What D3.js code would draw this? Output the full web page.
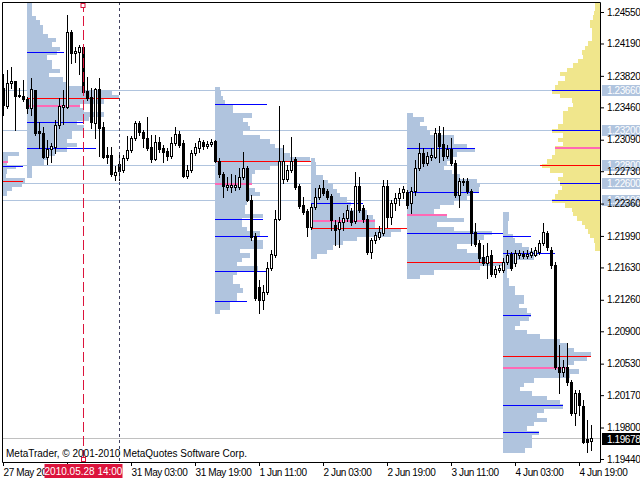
<!DOCTYPE html>
<html><head><meta charset="utf-8">
<script src="https://cdn.jsdelivr.net/npm/d3@7"></script>
<style>body{margin:0;background:#fff}svg{display:block}text{font-family:"Liberation Sans",Arial,sans-serif}</style>
</head><body><svg id="c" width="640" height="480"></svg>
<script>
// ---- candle data (EURUSD H1) ----
const open = [
1.23681,1.23475,1.23738,1.23761,1.23590,1.23590,
1.23555,1.23453,1.23658,1.23190,1.23167,1.22892,1.22984,1.23007,1.23258,1.23464,
1.23464,1.24321,1.24081,1.24093,1.24150,1.23647,1.23578,1.23281,1.23670,1.23235,
1.22915,1.22915,1.22687,
1.22812,1.22744,1.22881,1.22972,1.23110,1.23281,1.23178,1.23110,1.23007,1.22870,
1.23064,1.22995,1.22961,1.22904,1.23053,1.23155,1.23053,1.22675,1.22744,1.22938,
1.22995,1.23064,1.23018,1.23041,
1.23075,1.22847,1.22698,1.22550,1.22550,1.22550,1.22550,1.22664,1.22767,1.22401,
1.21990,1.21407,1.21258,1.21349,1.21624,1.21772,1.22184,1.22641,1.22641,1.22744,
1.22870,1.22561,1.22344,1.22275,
1.22092,1.22321,1.22435,1.22538,1.22504,1.22447,1.22115,1.22070,1.22150,1.22195,
1.22275,1.22161,1.22561,1.22310,1.22184,1.21807,1.21944,1.21978,1.22024,1.22561,
1.22207,1.22367,1.22424,1.22492,
1.22492,1.22367,1.22504,1.22767,1.22938,1.22824,1.22892,1.22892,1.23167,1.23041,
1.22904,1.22984,1.22824,1.22458,1.22607,1.22618,1.22504,1.22035,1.21910,1.21749,
1.21681,1.21772,1.21555,1.21601,
1.21601,1.21692,1.21784,1.21681,1.21772,1.21784,1.21761,1.21772,1.21772,1.21807,
1.21910,1.22024,1.21829,1.21658,1.20492,1.20435,1.20492,1.20321,1.19966,1.20195,
1.20046,1.19669,1.19646];
const high = [
1.23841,1.23887,1.23921,1.23761,1.23681,1.23773,
1.23578,1.23795,1.23658,1.23293,1.23235,1.23087,1.23053,1.23315,1.23567,1.23658,
1.24516,1.24344,1.24150,1.24173,1.24161,1.23807,1.23681,1.23681,1.23795,1.23293,
1.23007,1.23007,1.22790,
1.22915,1.22915,1.23133,1.23133,1.23304,1.23304,1.23201,1.23350,1.23144,1.23144,
1.23121,1.23030,1.22995,1.23121,1.23235,1.23190,1.23087,1.22801,1.22972,1.23053,
1.23110,1.23087,1.23075,1.23098,
1.23087,1.22881,1.22721,1.22664,1.22698,1.22687,1.22767,1.22950,1.22790,1.22458,
1.22024,1.21487,1.21429,1.21692,1.21829,1.22287,1.23475,1.23030,1.22801,1.23121,
1.22892,1.22584,1.22435,1.22298,
1.22355,1.22538,1.22572,1.22630,1.22527,1.22470,1.22172,1.22207,1.22252,1.22344,
1.22310,1.22721,1.22664,1.22344,1.22230,1.21967,1.22035,1.22104,1.22630,1.22630,
1.22401,1.22481,1.22538,1.22561,
1.22515,1.22550,1.22858,1.23053,1.22995,1.22950,1.22995,1.23224,1.23247,1.23235,
1.23030,1.23110,1.22858,1.22652,1.22652,1.22652,1.22527,1.22138,1.21944,1.21887,
1.21910,1.21829,1.21647,1.21658,
1.21738,1.21829,1.21807,1.21829,1.21829,1.21818,1.21829,1.21852,1.21864,1.21944,
1.22138,1.22047,1.21864,1.21692,1.20744,1.20572,1.20767,1.20344,1.20229,1.20229,
1.20115,1.19886,1.19829];
const low = [
1.23373,1.23453,1.23681,1.23201,1.23578,1.23533,
1.23395,1.23373,1.23144,1.22995,1.22881,1.22812,1.22835,1.22938,1.23224,1.23270,
1.23453,1.23967,1.23978,1.23841,1.23613,1.23544,1.23224,1.23110,1.22904,1.22881,
1.22824,1.22675,1.22630,
1.22630,1.22721,1.22858,1.22950,1.23087,1.23144,1.23007,1.22972,1.22835,1.22858,
1.22950,1.22835,1.22858,1.22881,1.23030,1.23007,1.22664,1.22652,1.22721,1.22915,
1.22950,1.22984,1.22995,1.23018,
1.22835,1.22664,1.22435,1.22515,1.22492,1.22515,1.22527,1.22641,1.22390,1.21944,
1.21258,1.21109,1.21155,1.21327,1.21601,1.21749,1.22172,1.22595,1.22618,1.22721,
1.22527,1.22310,1.22241,1.21990,
1.22070,1.22298,1.22412,1.22458,1.22412,1.22058,1.21887,1.21864,1.22058,1.22161,
1.22115,1.22138,1.22264,1.22150,1.21784,1.21738,1.21910,1.21955,1.22001,1.22092,
1.22127,1.22287,1.22344,1.22424,
1.22310,1.22252,1.22458,1.22744,1.22790,1.22801,1.22858,1.22881,1.22835,1.22858,
1.22881,1.22801,1.22435,1.22321,1.22572,1.22481,1.21887,1.21875,1.21692,1.21658,
1.21509,1.21532,1.21521,1.21578,
1.21578,1.21669,1.21601,1.21647,1.21738,1.21738,1.21738,1.21749,1.21761,1.21784,
1.21887,1.21829,1.21624,1.20469,1.20195,1.20389,1.20286,1.19944,1.19829,1.19944,
1.19624,1.19521,1.19543];
const close = [
1.23487,1.23738,1.23761,1.23590,1.23601,1.23555,
1.23453,1.23670,1.23167,1.23167,1.22892,1.22984,1.23018,1.23258,1.23475,1.23487,
1.24321,1.24081,1.24104,1.24150,1.23635,1.23567,1.23293,1.23670,1.23224,1.22892,
1.22892,1.22698,1.22721,
1.22733,1.22881,1.22972,1.23110,1.23281,1.23178,1.23110,1.22995,1.22870,1.23064,
1.22984,1.22950,1.22904,1.23053,1.23155,1.23030,1.22675,1.22744,1.22938,1.23007,
1.23075,1.23018,1.23041,1.23064,
1.22847,1.22698,1.22561,1.22572,1.22572,1.22572,1.22664,1.22767,1.22401,1.21978,
1.21281,1.21258,1.21349,1.21624,1.21784,1.22184,1.22847,1.22847,1.22744,1.22847,
1.22550,1.22332,1.22264,1.22092,
1.22321,1.22435,1.22538,1.22481,1.22435,1.22172,1.22058,1.22150,1.22195,1.22287,
1.22150,1.22561,1.22287,1.22184,1.21807,1.21944,1.22001,1.22035,1.22561,1.22207,
1.22367,1.22424,1.22481,1.22527,
1.22344,1.22504,1.22767,1.22938,1.22824,1.22904,1.22915,1.23167,1.23018,1.22904,
1.22984,1.22824,1.22458,1.22618,1.22618,1.22504,1.22024,1.21898,1.21738,1.21681,
1.21761,1.21555,1.21612,1.21624,
1.21692,1.21772,1.21624,1.21795,1.21795,1.21761,1.21784,1.21807,1.21829,1.21910,
1.22035,1.21864,1.21658,1.20492,1.20435,1.20492,1.20321,1.19966,1.20195,1.20058,
1.19635,1.19635,1.19678];

// ---- axes ----
const timeTicks  = [0,16,32,48,64,80,96,112,128,144];
const timeLabels = ["27 May 2010","","31 May 03:00","31 May 19:00","1 Jun 11:00",
                    "2 Jun 03:00","2 Jun 19:00","3 Jun 11:00","4 Jun 03:00","4 Jun 19:00"];
const priceTicks = [1.24550,1.24190,1.23820,1.23460,1.23090,1.22730,1.22360,1.21990,
                    1.21630,1.21260,1.20900,1.20530,1.20170,1.19800,1.19440];
const levelPrices = [1.23660,1.23200,1.22800,1.22600,1.22400];
const lastPrice = 1.19678;
const cursorIndex = 20, cursorLabel = "2010.05.28 14:00";
const separatorIndex = 29;

// ---- daily market profiles (row step 0.0005) ----
const STEP = 0.0005;
const profStarts = [-0.25, 6, 53, 77, 101, 125];
const profTops   = [1.22950, 1.24653, 1.23693, 1.22881, 1.23395, 1.22264];
const prof27May = [17,6,5,14,5,4,23,20,10,5];
const prof28May = [5,5,5,9,13,16,16,21,29,25,33,30,20,25,25,33,22,36,40,55,85,92,77,53,57,77,62,50,57,45,45,40,50,40,28,20,17,5,5,5];
const prof1Jun  = [5,6,8,10,18,18,37,28,33,35,28,45,55,60,68,75,95,67,55,40,37,37,32,40,45,35,32,30,30,48,27,27,32,45,37,48,48,25,35,27,22,43,22,18,18,25,28,22,22,15,15,5];
const prof2Jun  = [4,5,5,5,12,17,22,26,29,36,40,39,56,62,64,64,90,80,46,32,22,16,6];
const prof3Jun  = [6,17,13,20,23,47,47,60,68,50,43,40,37,45,53,70,73,72,65,60,47,33,27,40,57,30,47,85,77,67,50,60,73,82,96,73,27,13];
const prof4Jun  = [6,6,5,5,5,10,12,19,26,35,31,12,7,4,4,6,6,12,12,21,21,16,24,28,26,17,12,24,37,57,64,71,88,84,71,64,76,67,31,21,17,29,44,57,60,41,34,44,31,24,36,29,29,29,22];
// level lines: [price, volume, kind]  va = value area (blue), poc = red, vw = pink
const lines27May = [[1.22835,6,"vw"],[1.22790,21,"va"],[1.22618,21,"poc"]];
const lines28May = [[1.24093,37,"va"],[1.23296,57,"va"],[1.22995,69,"va"],[1.23570,92,"poc"],[1.23475,53,"vw"]];
const lines1Jun  = [[1.23498,52,"va"],[1.22184,48,"va"],[1.21990,53,"va"],[1.21589,52,"va"],[1.21247,32,"va"],[1.22850,96,"poc"],[1.22584,37,"vw"]];
const lines2Jun  = [[1.22367,52,"va"],[1.22081,96,"poc"],[1.22161,64,"vw"]];
const lines3Jun  = [[1.22995,68,"va"],[1.22492,72,"va"],[1.22024,96,"va"],[1.21692,96,"poc"],[1.22230,40,"vw"]];
const lines4Jun  = [[1.21990,28,"va"],[1.21795,52,"va"],[1.21087,28,"va"],[1.20058,60,"va"],[1.19749,36,"va"],[1.20618,88,"poc"],[1.20481,64,"vw"]];
// weekly profile on the right edge
const weekTop = 1.24664;
const weekProfile = [5,5,6,7,10,10,8,8,8,12,15,18,17,22,27,33,40,35,42,45,48,40,28,27,32,37,37,37,42,48,37,42,37,45,45,48,53,58,50,37,42,40,38,42,45,48,35,28,27,23,18,15,12,10,6,5,5];
const weekLines = [[1.23660,48,"va"],[1.23200,48,"va"],[1.23000,45,"vw"],[1.22800,60,"poc"],[1.22600,40,"va"],[1.22400,48,"va"]];

const dayProfiles = [prof27May,prof28May,prof1Jun,prof2Jun,prof3Jun,prof4Jun];
const dayLines = [lines27May,lines28May,lines1Jun,lines2Jun,lines3Jun,lines4Jun];

// ---- drawing ----
const L=2, R=600, T=2, B=462;
const svg = d3.select("#c");
const xScale = d3.scaleLinear().domain([0, open.length-1]).range([3, 591]);
const yScale = d3.scaleLinear().domain([1.19440, 1.24550]).range([459, 12]);
const lenScale = d3.scaleLinear().domain([0,100]).range([0,100]);
const lineColor = {va:"#0000FF", poc:"#FF0000", vw:"#FF69B4"};
const lineWidth = {va:1, poc:1, vw:2};

svg.append("rect").attr("width",640).attr("height",480).attr("fill","#fff");
svg.append("defs").append("clipPath").attr("id","plot").append("rect")
  .attr("x",L).attr("y",T).attr("width",R-L).attr("height",B-T);
const g = svg.append("g").attr("clip-path","url(#plot)");

// horizontal level lines
g.selectAll(".lvl").data(levelPrices).join("line")
  .attr("x1",L).attr("x2",R)
  .attr("y1",d=>Math.round(yScale(d))+0.5).attr("y2",d=>Math.round(yScale(d))+0.5)
  .attr("stroke","#B0C4DE").attr("stroke-width",1);
g.append("line").attr("x1",L).attr("x2",R)
  .attr("y1",Math.round(yScale(lastPrice))+0.5).attr("y2",Math.round(yScale(lastPrice))+0.5)
  .attr("stroke","#C0C0C0");

function profilePath(x0, top, vols, dir){
  let d = `M${x0},${Math.round(yScale(top))}`;
  vols.forEach((v,i)=>{
    const y0 = Math.round(yScale(top - i*STEP)), y1 = Math.round(yScale(top-(i+1)*STEP));
    const x = x0 + dir*lenScale(v);
    d += `L${x},${y0}L${x},${y1}`;
  });
  d += `L${x0},${Math.round(yScale(top - vols.length*STEP))}Z`;
  return d;
}
function drawLines(x0, lines, dir){
  lines.forEach(([p,v,k])=>{
    const w = lineWidth[k];
    const y = Math.round(yScale(p)) + (w%2 ? 0.5 : 0);
    g.append("line").attr("x1",x0).attr("x2",x0+dir*lenScale(v))
      .attr("y1",y).attr("y2",y).attr("stroke",lineColor[k]).attr("stroke-width",w);
  });
}
dayProfiles.forEach((vols,k)=>{
  const x0 = k===0 ? L : xScale(profStarts[k]);
  g.append("path").attr("d",profilePath(x0, profTops[k], vols, 1)).attr("fill","#B0C4DE");
});
g.append("path").attr("d",profilePath(R, weekTop, weekProfile, -1)).attr("fill","#F0E68C");
dayProfiles.forEach((vols,k)=>{
  const x0 = k===0 ? L : xScale(profStarts[k]);
  drawLines(x0, dayLines[k], 1);
});
drawLines(R, weekLines, -1);

// candles
const bars = open.map((o,i)=>({i,o,h:high[i],l:low[i],c:close[i]}));
g.selectAll(".wick").data(bars).join("line")
  .attr("x1",d=>xScale(d.i)+0.5).attr("x2",d=>xScale(d.i)+0.5)
  .attr("y1",d=>Math.round(yScale(d.h))).attr("y2",d=>Math.round(yScale(d.l))+1)
  .attr("stroke","#000").attr("stroke-width",1);
bars.forEach(d=>{
  const cx = xScale(d.i);
  const top = Math.round(yScale(Math.max(d.o,d.c))), bot = Math.round(yScale(Math.min(d.o,d.c)));
  if (d.c >= d.o){
    g.append("rect").attr("x",cx-0.5).attr("y",top+0.5).attr("width",2).attr("height",Math.max(bot-top,1))
      .attr("fill","#fff").attr("stroke","#000").attr("stroke-width",1);
  } else {
    g.append("rect").attr("x",cx-1).attr("y",top).attr("width",3).attr("height",bot-top+1).attr("fill","#000");
  }
});

// separators / cursor
g.append("line").attr("x1",xScale(separatorIndex)+0.5).attr("x2",xScale(separatorIndex)+0.5)
  .attr("y1",T).attr("y2",B).attr("stroke","#404060").attr("stroke-dasharray","3,3");
const cx0 = xScale(cursorIndex)+0.5;
g.append("line").attr("x1",cx0).attr("x2",cx0).attr("y1",T).attr("y2",B)
  .attr("stroke","#DC143C").attr("stroke-dasharray","10,4");
svg.append("rect").attr("x",cx0-2.5).attr("y",3.5).attr("width",4).attr("height",4)
  .attr("fill","#fff").attr("stroke","#DC143C");
svg.append("rect").attr("x",cx0-2).attr("y",457.5).attr("width",4).attr("height",4)
  .attr("fill","#fff").attr("stroke","#DC143C");

// copyright
svg.append("text").attr("x",6).attr("y",457).attr("font-size","10px").attr("fill","#000")
  .text("MetaTrader, © 2001-2010 MetaQuotes Software Corp.");

// border
svg.append("path").attr("d",`M${L+0.5},${B+0.5}V${T+0.5}H${R+0.5}V${B+0.5}H${L+0.5}`)
  .attr("fill","none").attr("stroke","#000");

// highlighted level labels on price axis
const hl = svg.append("g");
levelPrices.forEach(p=>{
  const y = Math.round(yScale(p));
  hl.append("rect").attr("x",602).attr("y",y-5).attr("width",38).attr("height",11).attr("fill","#B0C4DE");
  hl.append("text").attr("x",607).attr("y",y).attr("dy","0.35em").attr("font-size","10px")
    .attr("letter-spacing","-0.4px").attr("fill","#fff").text(p.toFixed(5));
});

// price axis
const ya = svg.append("g").attr("transform",`translate(${R},0)`)
  .call(d3.axisRight(yScale).tickValues(priceTicks).tickSize(4).tickSizeOuter(0).tickFormat(d3.format(".5f")));
ya.select(".domain").remove();
ya.selectAll("text").attr("font-size","10px").attr("font-family","Liberation Sans, Arial, sans-serif")
  .attr("letter-spacing","-0.4px").attr("fill","#000");
ya.selectAll("line").attr("stroke","#000");

// time axis
const xa = svg.append("g").attr("transform",`translate(0,${B})`)
  .call(d3.axisBottom(xScale).tickValues(timeTicks).tickSize(4).tickSizeOuter(0).tickFormat((d,i)=>timeLabels[i]));
xa.select(".domain").remove();
xa.selectAll("text").attr("text-anchor","start").attr("font-size","10px")
  .attr("font-family","Liberation Sans, Arial, sans-serif").attr("letter-spacing","-0.4px").attr("fill","#000");
xa.selectAll("line").attr("stroke","#000");

// current price box
const yl = Math.round(yScale(lastPrice));
svg.append("rect").attr("x",602).attr("y",yl-5).attr("width",38).attr("height",12).attr("fill","#000");
svg.append("text").attr("x",607).attr("y",yl+1).attr("dy","0.35em").attr("font-size","10px")
  .attr("letter-spacing","-0.4px").attr("fill","#fff").text(lastPrice.toFixed(5));

// cursor time box
svg.append("rect").attr("x",cx0-39).attr("y",464).attr("width",78).attr("height",14).attr("fill","#DC143C");
svg.append("text").attr("x",cx0).attr("y",475).attr("text-anchor","middle").attr("font-size","10px")
  .attr("fill","#fff").text(cursorLabel);
</script></body></html>
